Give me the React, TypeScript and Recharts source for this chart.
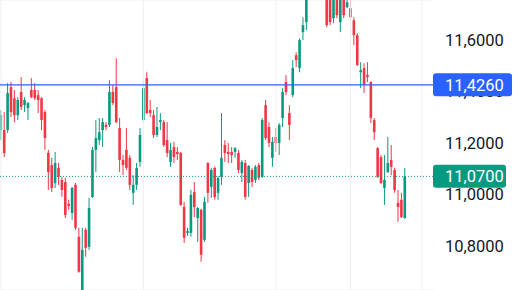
import { Bar, CartesianGrid, ComposedChart, ReferenceLine, XAxis, YAxis } from "recharts";

// OHLC, oldest first (prices in the chart's own unit)
const opens = [
  11.250, 11.250, 11.250, 11.417, 11.374, 11.308, 11.398, 11.347, 11.336, 11.406,
  11.406, 11.386, 11.374, 11.320, 11.161, 11.114, 11.044, 11.103, 11.056, 11.048,
  10.963, 10.928, 11.037, 10.835, 10.621, 10.862, 10.796, 10.990, 11.173, 11.211,
  11.250, 11.270, 11.270, 11.398, 11.417, 11.258, 11.134, 11.173, 11.142, 11.006,
  11.037, 11.126, 11.289, 11.452, 11.328, 11.308, 11.231, 11.281, 11.281, 11.211,
  11.126, 11.184, 11.165, 11.161, 10.951, 10.850, 10.850, 11.009, 10.908, 10.940,
  10.823, 11.122, 11.029, 11.103, 11.006, 11.068, 11.192, 11.165, 11.165, 11.165,
  11.161, 11.083, 11.122, 11.044, 11.095, 11.056, 11.114, 11.068, 11.347, 11.262,
  11.142, 11.223, 11.200, 11.297, 11.437, 11.316, 11.386, 11.541, 11.491, 11.631,
  11.670, 11.780, 11.830, 11.800, 11.860, 11.810, 11.794, 11.813, 11.685, 11.794,
  11.670, 11.774, 11.728, 11.724, 11.677, 11.619, 11.475, 11.491, 11.464, 11.437,
  11.289, 11.180, 11.145, 11.025, 11.087, 11.134, 11.095, 10.967, 10.979, 10.908,
];
const highs = [
  11.328, 11.320, 11.433, 11.437, 11.406, 11.378, 11.456, 11.378, 11.359, 11.452,
  11.433, 11.406, 11.378, 11.328, 11.173, 11.142, 11.165, 11.122, 11.068, 11.064,
  10.979, 11.029, 11.044, 10.870, 10.870, 10.870, 10.986, 11.184, 11.289, 11.297,
  11.297, 11.281, 11.444, 11.425, 11.530, 11.297, 11.153, 11.258, 11.153, 11.075,
  11.122, 11.258, 11.444, 11.475, 11.367, 11.328, 11.340, 11.316, 11.289, 11.281,
  11.200, 11.204, 11.184, 11.165, 10.971, 10.870, 11.017, 11.048, 10.951, 10.944,
  10.990, 11.126, 11.103, 11.107, 11.072, 11.316, 11.211, 11.200, 11.184, 11.184,
  11.173, 11.134, 11.134, 11.114, 11.103, 11.114, 11.122, 11.297, 11.367, 11.281,
  11.223, 11.258, 11.277, 11.413, 11.464, 11.347, 11.522, 11.553, 11.607, 11.689,
  11.794, 11.840, 11.870, 11.880, 11.890, 11.840, 11.820, 11.840, 11.800, 11.810,
  11.790, 11.800, 11.774, 11.786, 11.689, 11.627, 11.514, 11.510, 11.514, 11.440,
  11.297, 11.184, 11.153, 11.153, 11.223, 11.192, 11.103, 11.017, 11.006, 11.103,
];
const lows = [
  11.211, 11.145, 11.239, 11.301, 11.281, 11.289, 11.328, 11.320, 11.289, 11.374,
  11.367, 11.316, 11.250, 11.173, 11.017, 11.009, 11.025, 11.037, 10.990, 10.908,
  10.940, 10.901, 10.862, 10.695, 10.598, 10.757, 10.784, 10.986, 11.087, 11.192,
  11.184, 11.250, 11.262, 11.347, 11.277, 11.087, 11.075, 11.095, 11.017, 10.959,
  11.017, 11.107, 11.281, 11.312, 11.301, 11.219, 11.223, 11.250, 11.184, 11.145,
  11.107, 11.122, 11.134, 10.955, 10.811, 10.839, 10.835, 10.912, 10.815, 10.738,
  10.815, 10.967, 10.986, 10.979, 10.979, 11.037, 11.126, 11.122, 11.122, 11.142,
  11.083, 11.048, 10.979, 10.990, 11.029, 11.044, 11.056, 11.064, 11.211, 11.184,
  11.107, 11.165, 11.153, 11.262, 11.386, 11.211, 11.378, 11.495, 11.475, 11.600,
  11.639, 11.770, 11.780, 11.790, 11.790, 11.770, 11.650, 11.658, 11.666, 11.685,
  11.631, 11.685, 11.724, 11.685, 11.580, 11.499, 11.413, 11.394, 11.437, 11.277,
  11.211, 11.064, 11.040, 10.959, 11.083, 11.075, 11.006, 10.893, 10.908, 10.905,
];
const closes = [
  11.308, 11.161, 11.394, 11.320, 11.308, 11.367, 11.340, 11.367, 11.355, 11.378,
  11.374, 11.367, 11.289, 11.219, 11.087, 11.025, 11.122, 11.068, 11.017, 10.920,
  10.955, 11.025, 10.870, 10.699, 10.784, 10.792, 10.947, 11.173, 11.219, 11.242,
  11.281, 11.262, 11.398, 11.355, 11.281, 11.134, 11.114, 11.103, 11.037, 11.037,
  11.103, 11.231, 11.413, 11.316, 11.316, 11.231, 11.262, 11.289, 11.192, 11.161,
  11.173, 11.145, 11.157, 10.959, 10.831, 10.858, 10.998, 10.951, 10.947, 10.765,
  10.971, 11.006, 11.095, 10.990, 11.064, 11.142, 11.161, 11.157, 11.153, 11.180,
  11.095, 11.126, 10.990, 11.110, 11.048, 11.107, 11.064, 11.289, 11.219, 11.200,
  11.204, 11.200, 11.270, 11.398, 11.398, 11.270, 11.491, 11.522, 11.600, 11.658,
  11.774, 11.820, 11.800, 11.860, 11.810, 11.780, 11.658, 11.670, 11.774, 11.697,
  11.774, 11.697, 11.747, 11.689, 11.619, 11.503, 11.483, 11.425, 11.456, 11.297,
  11.242, 11.068, 11.044, 11.056, 11.122, 11.107, 11.017, 10.951, 10.912, 11.070,
];

const priceTicks = [10.8, 11.0, 11.2, 11.4, 11.6];
const timeDividers = [0, 42, 81, 103, 124]; // bar index of each period start
const drawnLevel = 11.426;

const UP = "#089981";
const DOWN = "#f23645";
const BLUE = "#2962ff";
const GRID = "#eef0f3";
const FONT = "Roboto, sans-serif";
const FONT_SIZE = 16.5;
const BODY_W = 2.6;

const candles = opens.map((open, i) => ({
  i,
  open,
  high: highs[i],
  low: lows[i],
  close: closes[i],
}));
const lastClose = closes[closes.length - 1];

const fmt = (v: number) => v.toFixed(4).replace(".", ",");

function Candle(props: any) {
  const { x, y, width, height, payload } = props;
  const { open, high, low, close } = payload;
  const color = close >= open ? UP : DOWN;
  const top = Math.min(y, y + height);
  const h = Math.abs(height);
  const k = h / (high - low); // px per price unit from the bar's own scaling
  const cx = x + width / 2;
  const yo = top + (high - open) * k;
  const yc = top + (high - close) * k;
  return (
    <g>
      <line x1={cx} x2={cx} y1={top} y2={top + h} stroke={color} strokeWidth={1} />
      <rect x={cx - BODY_W / 2} y={Math.min(yo, yc)} width={BODY_W} height={Math.max(1, Math.abs(yo - yc))} fill={color} />
    </g>
  );
}

// price scale text, drawn as reference-line labels so the tags can sit on top
function ScaleText({ viewBox, price }: any) {
  return (
    <text x={viewBox.x + viewBox.width + 12} y={viewBox.y} dy="0.36em" fill="#131722" fontSize={FONT_SIZE} fontFamily={FONT}>
      {fmt(price)}
    </text>
  );
}

function PriceTag({ viewBox, price, fill, w }: any) {
  const left = viewBox.x + viewBox.width;
  return (
    <g>
      <rect x={left} y={viewBox.y - 11.5} width={w} height={23} rx={3} fill={fill} />
      <text x={left + 12} y={viewBox.y} dy="0.36em" fill="#fff" fontSize={FONT_SIZE} fontFamily={FONT}>
        {fmt(price)}
      </text>
    </g>
  );
}

export default function App() {
  return (
    <div style={{ width: 516, height: 290, background: "#fff" }}>
      <style>{"body{margin:0}"}</style>
      <ComposedChart width={516} height={290} data={candles} margin={{ top: 0, right: 0, bottom: 0, left: 0 }}>
        <CartesianGrid vertical={false} stroke={GRID} />
        {timeDividers.map((t) => (
          <ReferenceLine key={t} x={t} stroke={GRID} />
        ))}
        <XAxis type="number" dataKey="i" domain={[-0.295, 127.25]} hide />
        <YAxis
          orientation="right"
          width={83}
          domain={[10.628, 11.756]}
          allowDataOverflow
          ticks={priceTicks}
          axisLine={false}
          tickLine={false}
          tick={false}
        />
        <Bar dataKey={(d: any) => [d.low, d.high]} barSize={3} shape={Candle} isAnimationActive={false} />
        {priceTicks.map((t) => (
          <ReferenceLine key={t} y={t} stroke="none" label={(p: any) => <ScaleText {...p} price={t} />} />
        ))}
        <ReferenceLine
          y={drawnLevel}
          stroke={BLUE}
          strokeWidth={1.2}
          label={(p: any) => <PriceTag {...p} price={drawnLevel} fill={BLUE} w={79} />}
        />
        <ReferenceLine
          y={lastClose}
          stroke={UP}
          strokeDasharray="1 2"
          label={(p: any) => <PriceTag {...p} price={lastClose} fill={UP} w={73} />}
        />
      </ComposedChart>
    </div>
  );
}
